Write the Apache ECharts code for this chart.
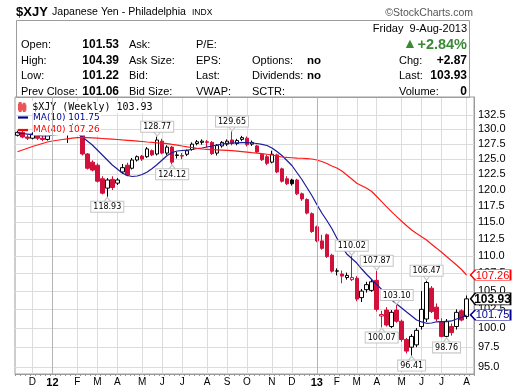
<!DOCTYPE html>
<html><head><meta charset="utf-8">
<script src="https://cdn.jsdelivr.net/npm/echarts@6/dist/echarts.min.js"></script>
<style>html,body{margin:0;padding:0;background:#fff}#c{width:520px;height:391px}</style>
</head><body><div id="c"></div>
<script>
// ---- categories (weekly bars, Monday dates) ----
const weeks = ['2011-11-14','2011-11-21','2011-11-28','2011-12-05','2011-12-12','2011-12-19','2011-12-26',
'2012-01-02','2012-01-09','2012-01-16','2012-01-23','2012-01-30','2012-02-06','2012-02-13','2012-02-20','2012-02-27',
'2012-03-05','2012-03-12','2012-03-19','2012-03-26','2012-04-02','2012-04-09','2012-04-16','2012-04-23','2012-04-30',
'2012-05-07','2012-05-14','2012-05-21','2012-05-28','2012-06-04','2012-06-11','2012-06-18','2012-06-25',
'2012-07-02','2012-07-09','2012-07-16','2012-07-23','2012-07-30','2012-08-06','2012-08-13','2012-08-20','2012-08-27',
'2012-09-03','2012-09-10','2012-09-17','2012-09-24','2012-10-01','2012-10-08','2012-10-15','2012-10-22','2012-10-29',
'2012-11-05','2012-11-12','2012-11-19','2012-11-26','2012-12-03','2012-12-10','2012-12-17','2012-12-24','2012-12-31',
'2013-01-07','2013-01-14','2013-01-21','2013-01-28','2013-02-04','2013-02-11','2013-02-18','2013-02-25',
'2013-03-04','2013-03-11','2013-03-18','2013-03-25','2013-04-01','2013-04-08','2013-04-15','2013-04-22','2013-04-29',
'2013-05-06','2013-05-13','2013-05-20','2013-05-27','2013-06-03','2013-06-10','2013-06-17','2013-06-24',
'2013-07-01','2013-07-08','2013-07-15','2013-07-22','2013-07-29','2013-08-05','2013-08-12'];

// ---- series values ----
const opens = [129.0,129.5,128.7,128.5,129.2,128.5,128.3,129.4,130.1,130.0,
129.8,129.9,130.4,129.3,125.85,124.5,124.0,121.8,120.3,121.7,
121.1,122.9,124.0,123.5,124.85,125.5,125.4,126.4,125.85,128.0,
126.0,127.0,125.6,125.5,125.8,126.6,127.6,127.8,127.9,127.8,
126.0,127.2,127.5,128.2,127.6,128.3,128.5,127.5,127.2,125.8,
125.4,124.5,125.7,123.4,121.8,121.6,121.6,119.4,118.5,116.3,
114.3,112.2,113.1,110.1,107.8,107.4,106.9,106.6,106.8,104.1,
105.2,105.1,106.5,101.6,102.4,100.2,102.4,100.9,98.5,97.5,
97.8,100.2,101.2,105.4,102.8,100.8,98.9,100.2,100.2,102.3,
101.53];
const highs = [129.8,129.8,129.1,129.5,129.4,128.9,129.6,130.5,130.6,130.4,
130.4,131.0,130.8,129.5,126.0,124.8,124.3,122.2,121.9,122.2,
121.9,124.2,124.4,125.2,125.6,125.7,127.0,126.6,128.77,128.4,
127.3,127.2,126.2,126.0,126.6,127.8,128.2,128.3,128.2,128.0,
127.5,128.0,128.3,129.65,128.4,128.9,128.8,128.1,127.4,126.0,
125.7,126.4,125.9,123.6,122.2,121.8,121.8,119.6,118.7,116.5,
114.5,113.1,113.3,110.3,108.2,107.9,107.6,110.02,107.1,105.3,
106.3,106.6,107.87,102.3,102.8,102.4,103.10,101.1,98.7,99.2,
100.0,105.0,106.47,105.7,103.3,101.3,101.2,100.6,102.5,102.5,
104.39];
const lows = [128.8,128.5,128.2,128.3,128.2,128.0,128.1,129.0,129.6,129.5,
127.7,129.6,129.1,125.6,123.3,123.0,121.2,119.3,118.93,120.0,
120.8,122.6,122.2,123.3,124.6,124.7,125.2,125.5,125.6,125.8,
125.7,124.12,125.1,125.0,125.5,126.4,127.3,127.4,127.0,125.7,
125.6,126.9,127.2,127.3,127.3,128.0,127.1,127.2,126.0,124.7,
124.0,124.3,122.7,121.2,120.8,120.7,119.2,118.3,116.2,113.4,
112.0,110.9,109.7,107.6,107.2,106.1,106.6,106.4,103.6,103.5,
104.8,104.9,102.2,100.07,100.2,100.0,100.7,98.2,96.7,96.41,
97.5,99.8,100.8,102.0,100.9,98.8,98.76,99.0,99.8,100.9,
101.22];
const closes = [129.5,128.7,128.5,129.2,128.5,128.3,129.4,130.1,130.0,129.8,
129.9,130.4,129.3,125.85,123.5,123.2,121.4,119.5,121.6,120.4,
121.6,123.6,122.4,124.85,125.4,125.0,126.7,125.7,128.2,126.0,
127.0,124.5,125.7,125.6,126.4,127.5,127.9,128.0,127.8,125.9,
127.3,127.8,128.0,127.6,128.1,128.6,127.4,127.8,126.2,124.9,
124.3,125.8,122.9,121.4,121.0,121.0,119.4,118.6,116.4,113.6,
112.2,111.1,109.9,107.8,107.85,107.1,107.2,106.9,103.9,105.0,
105.9,106.3,102.5,101.8,100.4,102.1,100.9,98.5,97.0,98.9,
99.7,102.5,106.2,102.2,101.2,98.9,100.9,99.4,102.1,101.06,
103.93];
const ma10 = [129.4,129.3,129.2,129.1,129.0,128.9,128.9,129.0,129.1,129.2,
129.3,129.4,129.3,128.70,128.03,127.35,126.51,125.68,124.85,124.03,
123.38,122.73,122.32,122.16,122.24,122.49,122.89,123.46,124.11,124.85,
125.60,126.10,126.35,126.43,126.51,126.60,126.77,126.85,127.02,127.18,
127.35,127.52,127.64,127.69,127.72,127.74,127.74,127.69,127.61,127.47,
127.27,126.85,126.26,125.60,124.77,123.95,122.81,121.68,120.40,119.14,
117.73,116.41,115.27,114.05,112.63,111.30,110.28,109.62,108.97,108.11,
107.33,106.62,105.92,105.23,104.46,103.78,103.23,102.69,102.14,101.61,
101.07,100.81,100.63,100.67,100.83,100.85,100.85,100.94,101.20,101.40,
101.75];
const ma40 = [126.23,126.51,126.81,127.10,127.35,127.61,127.86,128.03,128.16,128.28,
128.40,128.50,128.59,128.62,128.60,128.55,128.50,128.45,128.40,128.35,
128.28,128.21,128.15,128.08,128.01,127.94,127.86,127.79,127.72,127.66,
127.59,127.45,127.32,127.18,127.05,126.93,126.80,126.68,126.63,126.58,
126.55,126.50,126.45,126.40,126.33,126.25,126.17,126.08,126.00,125.92,
125.81,125.68,125.52,125.35,125.28,125.23,125.18,125.14,125.09,125.02,
124.85,124.61,124.28,123.87,123.54,123.05,122.41,121.76,121.07,120.67,
120.27,119.77,118.98,118.17,117.37,116.58,115.85,115.16,114.46,113.83,
113.30,112.83,112.34,111.71,111.13,110.54,109.91,109.29,108.69,108.04,
107.26];

// ---- tick labels ----
const monthLabels = ['D','12','F','M','A','M','J','J','A','S','O','N','D','13','F','M','A','M','J','J','A'];
const yTicks = [95,97.5,100,102.5,105,107.5,110,112.5,115,117.5,120,122.5,125,127.5,130,132.5];
const yRange = [94.11, 135.69];

// ---- annotated highs / lows (bar index, kind) ----
const annotIdx  = [28, 18, 31, 43, 67, 72, 76, 73, 79, 82, 86];
const annotKind = ['high','low','low','high','high','high','high','low','low','high','low'];

// ---- header texts ----
const headTitle = ['$XJY', 'Japanese Yen - Philadelphia', 'INDX'];
const headDate = 'Friday  9-Aug-2013';
const headCol1 = ['Open:', 'High:', 'Low:', 'Prev Close:'];
const headVal1 = ['101.53', '104.39', '101.22', '101.06'];
const headCol2 = ['Ask:', 'Ask Size:', 'Bid:', 'Bid Size:'];
const headCol3 = ['P/E:', 'EPS:', 'Last:', 'VWAP:'];
const headCol4 = ['', 'Options:', 'Dividends:', 'SCTR:'];
const headVal4 = ['', 'no', 'no', ''];
const headRightLbl = ['', 'Chg:', 'Last:', 'Volume:'];
const headRightVal = ['+2.84%', '+2.87', '103.93', '0'];

// ---------------------------------------------------------------
const RED = '#d2103c', BLK = '#000000';
const monthStartIdx = [];
weeks.forEach((w, i) => { if (i > 0 && w.slice(0, 7) !== weeks[i - 1].slice(0, 7)) monthStartIdx.push(i); });
const labelAt = {};
monthStartIdx.forEach((k, j) => { labelAt[k] = monthLabels[j]; });
const yearIdx = monthStartIdx.filter((k, j) => /\d/.test(monthLabels[j]));

const candleData = opens.map((o, i) => {
  const c = closes[i];
  const col = (i === 0 || c >= closes[i - 1]) ? BLK : RED;
  const fill = c >= o ? '#fff' : col;
  return { value: [o, c, lows[i], highs[i]],
    itemStyle: { color: fill, color0: fill, borderColor: col, borderColor0: col } };
});

const annotPoints = annotIdx.map((k, j) => {
  const isHigh = annotKind[j] === 'high';
  const v = isHigh ? highs[k] : lows[k];
  return {
    coord: [weeks[k], v],
    symbol: isHigh ? 'path://M0,0L8,0L4,5Z' : 'path://M4,0L8,5L0,5Z',
    symbolSize: [8, 5],
    symbolOffset: [0, isHigh ? -3 : 3],
    itemStyle: { color: '#fff', borderColor: '#c4c4c4', borderWidth: 1 },
    label: { show: true, position: isHigh ? 'top' : 'bottom', distance: -1,
      formatter: v.toFixed(2), color: '#000', fontSize: 8, lineHeight: 9,
      fontFamily: '"DejaVu Sans", sans-serif',
      backgroundColor: '#fff', borderColor: '#c4c4c4', borderWidth: 1, padding: [1, 2, 0, 2] }
  };
});

const last = opens.length - 1;
function tag(value, color, bold) {
  return {
    coord: [weeks[last], value],
    symbol: 'path://M0,5.5L5,0L40,0L40,11L5,11Z',
    symbolSize: [40, bold ? 12 : 10.5],
    symbolKeepAspect: false,
    symbolOffset: [24, 0],
    itemStyle: { color: '#fff', borderColor: color, borderWidth: 1 },
    label: { show: true, position: 'inside', offset: [2, 0.5], formatter: value.toFixed(2),
      color: color, fontSize: bold ? 12 : 11, fontWeight: bold ? 'bold' : 'normal',
      fontFamily: '"Liberation Sans", Arial, sans-serif' }
  };
}

const F = '"Liberation Sans", Arial, sans-serif';
function txt(text, x, y, size, opts) {
  return Object.assign({ type: 'text', x: x, y: y, silent: true, z: 10,
    style: Object.assign({ text: text, fill: '#000', fontSize: size, fontFamily: F,
      align: 'left', verticalAlign: 'middle' }, (opts || {})) });
}
const rowsY = [45, 60.5, 76, 92];
const graphics = [
  { type: 'rect', silent: true, z: 1, shape: { x: 16.5, y: 20.5, width: 453, height: 77 },
    style: { fill: 'none', stroke: '#9c9c9c', lineWidth: 1 } },
  txt(headTitle[0], 16, 12.5, 13, { fontWeight: 'bold' }),
  txt(headTitle[1], 52, 12.5, 10.6),
  txt(headTitle[2], 192, 13, 8.5),
  txt('\u00A9StockCharts.com', 473, 13, 10.5, { align: 'right', fill: '#555' }),
  txt(headDate, 467, 28.7, 11, { align: 'right' }),
  txt('\u25B2', 403, 44, 14, { fill: '#3a8a34' }),
  txt(headRightVal[0], 467, 44.5, 14.5, { align: 'right', fontWeight: 'bold', fill: '#3a8a34' })
];
rowsY.forEach((y, r) => {
  graphics.push(txt(headCol1[r], 21, y, 11));
  graphics.push(txt(headVal1[r], 119, y, 12, { align: 'right', fontWeight: 'bold' }));
  graphics.push(txt(headCol2[r], 129, y, 11));
  graphics.push(txt(headCol3[r], 196, y, 11));
  if (headCol4[r]) graphics.push(txt(headCol4[r], 252, y, 11));
  if (headVal4[r]) graphics.push(txt(headVal4[r], 307, y, 11.5, { fontWeight: 'bold' }));
  if (r > 0) {
    graphics.push(txt(headRightLbl[r], 399, y, 11));
    graphics.push(txt(headRightVal[r], 467, y, 12, { align: 'right', fontWeight: 'bold' }));
  }
});

const lineIcon = 'path://M0,0h10v2.2h-10z';
const chart = echarts.init(document.getElementById('c'), null, { renderer: 'canvas' });
chart.setOption({
  animation: false,
  backgroundColor: '#fff',
  grid: { left: 15, right: 46, top: 97, bottom: 17, show: true, borderColor: '#9c9c9c', borderWidth: 1, containLabel: false },
  legend: [
    { left: 18, top: 101, padding: 0, itemWidth: 10, itemHeight: 8, selectedMode: false,
      data: [{ name: '$XJY (Weekly)', icon: 'path://M0,2h3v6h-3z M1,0h1v10h-1z M5,3h3v5h-3z M6,1h1v9h-1z', itemStyle: { color: '#000' } }],
      formatter: n => n + ' ' + closes[last].toFixed(2),
      textStyle: { fontFamily: '"DejaVu Sans Mono", monospace', fontSize: 10, color: '#000', backgroundColor: '#fff', padding: [1, 1, 1, 0] } },
    { left: 18, top: 112, padding: 0, itemWidth: 10, itemHeight: 8, selectedMode: false,
      data: [{ name: 'MA(10)', icon: lineIcon, itemStyle: { color: '#000090' } }],
      formatter: n => n + ' ' + ma10[last].toFixed(2),
      textStyle: { fontFamily: '"DejaVu Sans", sans-serif', fontSize: 9, color: '#000090', backgroundColor: '#fff', padding: [1, 1, 1, 0] } },
    { left: 18, top: 124.5, padding: 0, itemWidth: 10, itemHeight: 8, selectedMode: false,
      data: [{ name: 'MA(40)', icon: lineIcon, itemStyle: { color: '#ff0000' } }],
      formatter: n => n + ' ' + ma40[last].toFixed(2),
      textStyle: { fontFamily: '"DejaVu Sans", sans-serif', fontSize: 9, color: '#ff0000', backgroundColor: '#fff', padding: [1, 1, 1, 0] } }
  ],
  xAxis: {
    type: 'category', data: weeks, boundaryGap: true,
    axisLine: { show: true, lineStyle: { color: '#9c9c9c' } },
    axisTick: { show: true, interval: 0, length: 2, lineStyle: { color: '#999' } },
    axisLabel: {
      interval: (i) => labelAt[i] !== undefined,
      formatter: (v, i) => { const l = labelAt[i]; return /\d/.test(l) ? '{b|' + l + '}' : l; },
      color: '#000', fontSize: 10, fontFamily: F, margin: 3,
      rich: { b: { fontWeight: 'bold', fontSize: 11, fontFamily: F, color: '#000' } }
    },
    splitLine: { show: true, interval: (i) => labelAt[i] !== undefined, alignWithLabel: true,
      lineStyle: { color: '#dcdcdc', width: 1 } }
  },
  yAxis: {
    type: 'log', logBase: 10, min: yRange[0], max: yRange[1], position: 'right',
    axisLine: { show: true, lineStyle: { color: '#9c9c9c' } },
    axisTick: { show: false, customValues: yTicks },
    axisLabel: { customValues: yTicks, formatter: v => Number(v).toFixed(1), color: '#000', fontSize: 11, fontFamily: F, margin: 4 },
    splitLine: { show: true, lineStyle: { color: '#dcdcdc', width: 1 } }
  },
  graphic: graphics,
  series: [
    { name: '$XJY (Weekly)', type: 'candlestick', data: candleData, barWidth: 4,
      itemStyle: { borderWidth: 1 },
      markLine: { silent: true, symbol: 'none', label: { show: false },
        lineStyle: { color: '#b4b4b4', type: 'solid', width: 1 },
        data: yearIdx.map(k => ({ xAxis: weeks[k] })) },
      markPoint: { data: annotPoints.concat([tag(closes[last], '#000', true)]) } },
    { name: 'MA(10)', type: 'line', data: ma10, symbol: 'none', z: 3,
      lineStyle: { color: '#1c1c9c', width: 1.2 }, itemStyle: { color: '#1c1c9c' },
      markPoint: { data: [tag(ma10[last], '#000090', false)] } },
    { name: 'MA(40)', type: 'line', data: ma40, symbol: 'none', z: 3,
      lineStyle: { color: '#ff1a1a', width: 1.2 }, itemStyle: { color: '#ff1a1a' },
      markPoint: { data: [tag(ma40[last], '#ff0000', false)] } }
  ]
});
</script>
</body></html>
